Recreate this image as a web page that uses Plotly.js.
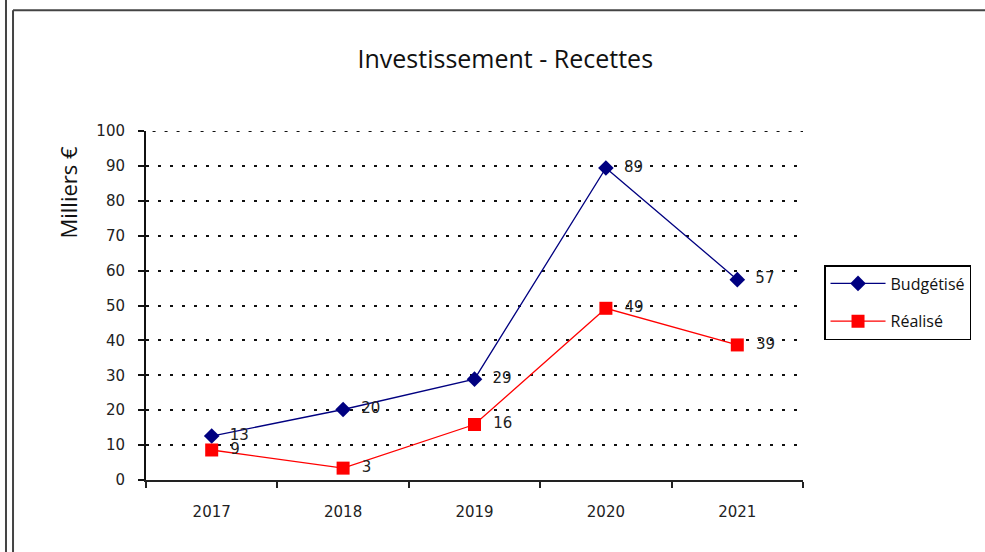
<!DOCTYPE html>
<html>
<head>
<meta charset="utf-8">
<script src="https://cdn.plot.ly/plotly-3.0.1.min.js"></script>
<style>html,body{margin:0;padding:0;background:#fff;}#chart{width:985px;height:552px;}</style>
</head>
<body>
<div id="chart"></div>
<script>
var years = ['2017', '2018', '2019', '2020', '2021'];
var budgetise = [12.6, 20.2, 28.9, 89.4, 57.4];
var realise = [8.6, 3.4, 15.9, 49.2, 38.7];
var seriesNames = ['Budgétisé', 'Réalisé'];
var yMax = 100;

function labels(arr) { return arr.map(function (v) { return '\u00a0\u00a0' + String(Math.round(v)); }); }

var labelFont = {family: 'DejaVu Sans, sans-serif', size: 15, color: '#222'};

var traces = [
  {
    x: years, y: budgetise, name: seriesNames[0], type: 'scatter', mode: 'lines+markers+text',
    legendgroup: 'a',
    line: {color: '#000080', width: 1.3},
    marker: {symbol: 'diamond', size: 12, color: '#000080'},
    text: labels(budgetise), textposition: 'middle right', textfont: labelFont,
    cliponaxis: false
  },
  {
    x: years, y: realise, name: seriesNames[1], type: 'scatter', mode: 'lines+markers+text',
    legendgroup: 'b',
    line: {color: '#FF0000', width: 1.3},
    marker: {symbol: 'square', size: 13, color: '#FF0000'},
    text: labels(realise), textposition: 'middle right', textfont: labelFont,
    cliponaxis: false
  }
];

var frame = {color: '#444', width: 2};
var layout = {
  width: 985, height: 552,
  margin: {l: 146, r: 182, t: 131, b: 72},
  paper_bgcolor: '#fff', plot_bgcolor: '#fff',
  showlegend: true,
  title: {text: 'Investissement - Recettes', x: 0.513, xanchor: 'center', y: 0.892, yanchor: 'middle',
          font: {family: 'Open Sans, sans-serif', size: 25, color: '#111'}},
  xaxis: {
    type: 'category', range: [-0.5, 4.5], showline: true, linecolor: '#222', linewidth: 2,
    ticks: 'outside', tickson: 'boundaries', ticklen: 6, tickcolor: '#222', tickwidth: 2,
    showgrid: false, zeroline: false, ticklabelstandoff: 17,
    tickfont: {family: 'DejaVu Sans, sans-serif', size: 15, color: '#222'}
  },
  yaxis: {
    range: [0, yMax], dtick: 10, showline: true, linecolor: '#111', linewidth: 2,
    ticks: 'outside', ticklen: 6, tickcolor: '#111', tickwidth: 2,
    showgrid: true, gridcolor: '#111', gridwidth: 2, griddash: '3px,9px', zeroline: false,
    ticklabelstandoff: 10,
    tickfont: {family: 'DejaVu Sans, sans-serif', size: 15, color: '#222'}
  },
  legend: {
    x: 1.032, xanchor: 'left', y: 0.616, yanchor: 'top',
    bordercolor: '#000', borderwidth: 1.5, bgcolor: '#fff',
    font: {family: 'Open Sans, sans-serif', size: 16, color: '#111'},
    itemwidth: 55, tracegroupgap: 14
  },
  annotations: [{
    text: 'Milliers €', textangle: -90, xref: 'paper', yref: 'paper',
    x: -0.118, y: 0.825, xanchor: 'center', yanchor: 'middle', showarrow: false,
    font: {family: 'Open Sans, sans-serif', size: 22, color: '#111'}
  }],
  shapes: [
    {type: 'line', xref: 'paper', yref: 'y', x0: 0.01, x1: 1, y0: yMax, y1: yMax,
     line: {color: '#111', width: 2, dash: '3px,9px'}},
    {type: 'line', xref: 'paper', yref: 'paper', x0: -0.2131, x1: -0.2131, y0: -0.206, y1: 1.376, line: frame},
    {type: 'line', xref: 'paper', yref: 'paper', x0: -0.2024, x1: -0.2024, y0: -0.206, y1: 1.3457, line: frame},
    {type: 'line', xref: 'paper', yref: 'paper', x0: -0.2024, x1: 1.278, y0: 1.3457, y1: 1.3457, line: frame}
  ]
};

Plotly.newPlot('chart', traces, layout, {displayModeBar: false, staticPlot: true});
</script>
</body>
</html>
